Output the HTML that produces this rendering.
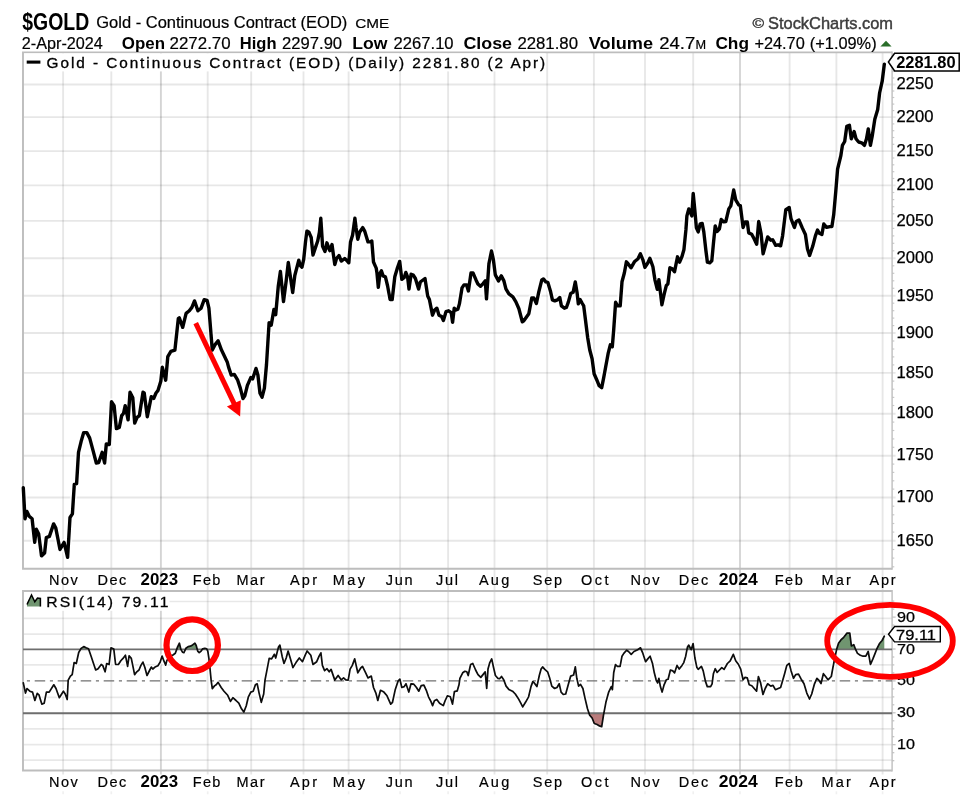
<!DOCTYPE html>
<html><head><meta charset="utf-8"><title>$GOLD</title><style>html,body{margin:0;padding:0;background:#fff;}body{width:975px;height:802px;overflow:hidden;font-family:"Liberation Sans",sans-serif;}svg{display:block;}</style></head>
<body>
<svg width="975" height="802" viewBox="0 0 975 802" font-family="'Liberation Sans', sans-serif">
<defs><filter id="b" x="-2%" y="-2%" width="104%" height="104%"><feGaussianBlur stdDeviation="0.52"/></filter>
<clipPath id="c70"><rect x="23.0" y="591.0" width="869.1" height="58.39999999999998"/></clipPath>
<clipPath id="c30"><rect x="23.0" y="713.2" width="869.1" height="57.299999999999955"/></clipPath>
<clipPath id="cm"><rect x="24.2" y="53.6" width="866.7" height="514.0"/></clipPath>
<clipPath id="cr"><rect x="24.2" y="592.2" width="866.7" height="177.1"/></clipPath>
</defs>
<rect width="975" height="802" fill="#fff"/>
<g filter="url(#b)">
<line x1="63.1" y1="52.4" x2="63.1" y2="774.5" stroke="rgba(0,0,0,0.095)" stroke-width="1.9"/>
<line x1="63.1" y1="791.3" x2="63.1" y2="794.3" stroke="rgba(0,0,0,0.06)" stroke-width="1.7"/>
<line x1="111.3" y1="52.4" x2="111.3" y2="774.5" stroke="rgba(0,0,0,0.095)" stroke-width="1.9"/>
<line x1="111.3" y1="791.3" x2="111.3" y2="794.3" stroke="rgba(0,0,0,0.06)" stroke-width="1.7"/>
<line x1="160.9" y1="52.4" x2="160.9" y2="774.5" stroke="rgba(0,0,0,0.17)" stroke-width="1.9"/>
<line x1="160.9" y1="791.3" x2="160.9" y2="794.3" stroke="rgba(0,0,0,0.06)" stroke-width="1.7"/>
<line x1="207.7" y1="52.4" x2="207.7" y2="774.5" stroke="rgba(0,0,0,0.095)" stroke-width="1.9"/>
<line x1="207.7" y1="791.3" x2="207.7" y2="794.3" stroke="rgba(0,0,0,0.06)" stroke-width="1.7"/>
<line x1="251.2" y1="52.4" x2="251.2" y2="774.5" stroke="rgba(0,0,0,0.095)" stroke-width="1.9"/>
<line x1="251.2" y1="791.3" x2="251.2" y2="794.3" stroke="rgba(0,0,0,0.06)" stroke-width="1.7"/>
<line x1="303.5" y1="52.4" x2="303.5" y2="774.5" stroke="rgba(0,0,0,0.095)" stroke-width="1.9"/>
<line x1="303.5" y1="791.3" x2="303.5" y2="794.3" stroke="rgba(0,0,0,0.06)" stroke-width="1.7"/>
<line x1="348.6" y1="52.4" x2="348.6" y2="774.5" stroke="rgba(0,0,0,0.095)" stroke-width="1.9"/>
<line x1="348.6" y1="791.3" x2="348.6" y2="794.3" stroke="rgba(0,0,0,0.06)" stroke-width="1.7"/>
<line x1="400.1" y1="52.4" x2="400.1" y2="774.5" stroke="rgba(0,0,0,0.095)" stroke-width="1.9"/>
<line x1="400.1" y1="791.3" x2="400.1" y2="794.3" stroke="rgba(0,0,0,0.06)" stroke-width="1.7"/>
<line x1="448.1" y1="52.4" x2="448.1" y2="774.5" stroke="rgba(0,0,0,0.095)" stroke-width="1.9"/>
<line x1="448.1" y1="791.3" x2="448.1" y2="794.3" stroke="rgba(0,0,0,0.06)" stroke-width="1.7"/>
<line x1="494.5" y1="52.4" x2="494.5" y2="774.5" stroke="rgba(0,0,0,0.095)" stroke-width="1.9"/>
<line x1="494.5" y1="791.3" x2="494.5" y2="794.3" stroke="rgba(0,0,0,0.06)" stroke-width="1.7"/>
<line x1="547.2" y1="52.4" x2="547.2" y2="774.5" stroke="rgba(0,0,0,0.095)" stroke-width="1.9"/>
<line x1="547.2" y1="791.3" x2="547.2" y2="794.3" stroke="rgba(0,0,0,0.06)" stroke-width="1.7"/>
<line x1="593.9" y1="52.4" x2="593.9" y2="774.5" stroke="rgba(0,0,0,0.095)" stroke-width="1.9"/>
<line x1="593.9" y1="791.3" x2="593.9" y2="794.3" stroke="rgba(0,0,0,0.06)" stroke-width="1.7"/>
<line x1="645.0" y1="52.4" x2="645.0" y2="774.5" stroke="rgba(0,0,0,0.095)" stroke-width="1.9"/>
<line x1="645.0" y1="791.3" x2="645.0" y2="794.3" stroke="rgba(0,0,0,0.06)" stroke-width="1.7"/>
<line x1="693.2" y1="52.4" x2="693.2" y2="774.5" stroke="rgba(0,0,0,0.095)" stroke-width="1.9"/>
<line x1="693.2" y1="791.3" x2="693.2" y2="794.3" stroke="rgba(0,0,0,0.06)" stroke-width="1.7"/>
<line x1="740.0" y1="52.4" x2="740.0" y2="774.5" stroke="rgba(0,0,0,0.17)" stroke-width="1.9"/>
<line x1="740.0" y1="791.3" x2="740.0" y2="794.3" stroke="rgba(0,0,0,0.06)" stroke-width="1.7"/>
<line x1="789.6" y1="52.4" x2="789.6" y2="774.5" stroke="rgba(0,0,0,0.095)" stroke-width="1.9"/>
<line x1="789.6" y1="791.3" x2="789.6" y2="794.3" stroke="rgba(0,0,0,0.06)" stroke-width="1.7"/>
<line x1="836.4" y1="52.4" x2="836.4" y2="774.5" stroke="rgba(0,0,0,0.095)" stroke-width="1.9"/>
<line x1="836.4" y1="791.3" x2="836.4" y2="794.3" stroke="rgba(0,0,0,0.06)" stroke-width="1.7"/>
<line x1="882.6" y1="52.4" x2="882.6" y2="774.5" stroke="rgba(0,0,0,0.095)" stroke-width="1.9"/>
<line x1="882.6" y1="791.3" x2="882.6" y2="794.3" stroke="rgba(0,0,0,0.06)" stroke-width="1.7"/>
<line x1="23.0" y1="84.5" x2="895.6" y2="84.5" stroke="rgba(0,0,0,0.095)" stroke-width="1.9"/>
<line x1="23.0" y1="117.1" x2="895.6" y2="117.1" stroke="rgba(0,0,0,0.095)" stroke-width="1.9"/>
<line x1="23.0" y1="151.1" x2="895.6" y2="151.1" stroke="rgba(0,0,0,0.095)" stroke-width="1.9"/>
<line x1="23.0" y1="185.4" x2="895.6" y2="185.4" stroke="rgba(0,0,0,0.095)" stroke-width="1.9"/>
<line x1="23.0" y1="220.9" x2="895.6" y2="220.9" stroke="rgba(0,0,0,0.095)" stroke-width="1.9"/>
<line x1="23.0" y1="258.3" x2="895.6" y2="258.3" stroke="rgba(0,0,0,0.095)" stroke-width="1.9"/>
<line x1="23.0" y1="295.8" x2="895.6" y2="295.8" stroke="rgba(0,0,0,0.095)" stroke-width="1.9"/>
<line x1="23.0" y1="333.0" x2="895.6" y2="333.0" stroke="rgba(0,0,0,0.095)" stroke-width="1.9"/>
<line x1="23.0" y1="372.9" x2="895.6" y2="372.9" stroke="rgba(0,0,0,0.095)" stroke-width="1.9"/>
<line x1="23.0" y1="413.7" x2="895.6" y2="413.7" stroke="rgba(0,0,0,0.095)" stroke-width="1.9"/>
<line x1="23.0" y1="455.7" x2="895.6" y2="455.7" stroke="rgba(0,0,0,0.095)" stroke-width="1.9"/>
<line x1="23.0" y1="497.5" x2="895.6" y2="497.5" stroke="rgba(0,0,0,0.095)" stroke-width="1.9"/>
<line x1="23.0" y1="540.8" x2="895.6" y2="540.8" stroke="rgba(0,0,0,0.095)" stroke-width="1.9"/>
<line x1="892.1" y1="58.4" x2="894.3000000000001" y2="58.4" stroke="#c8c8c8" stroke-width="1.2"/>
<line x1="892.1" y1="64.9" x2="894.3000000000001" y2="64.9" stroke="#c8c8c8" stroke-width="1.2"/>
<line x1="892.1" y1="71.5" x2="894.3000000000001" y2="71.5" stroke="#c8c8c8" stroke-width="1.2"/>
<line x1="892.1" y1="78.0" x2="894.3000000000001" y2="78.0" stroke="#c8c8c8" stroke-width="1.2"/>
<line x1="892.1" y1="91.0" x2="894.3000000000001" y2="91.0" stroke="#c8c8c8" stroke-width="1.2"/>
<line x1="892.1" y1="97.5" x2="894.3000000000001" y2="97.5" stroke="#c8c8c8" stroke-width="1.2"/>
<line x1="892.1" y1="104.1" x2="894.3000000000001" y2="104.1" stroke="#c8c8c8" stroke-width="1.2"/>
<line x1="892.1" y1="110.6" x2="894.3000000000001" y2="110.6" stroke="#c8c8c8" stroke-width="1.2"/>
<line x1="892.1" y1="123.9" x2="894.3000000000001" y2="123.9" stroke="#c8c8c8" stroke-width="1.2"/>
<line x1="892.1" y1="130.7" x2="894.3000000000001" y2="130.7" stroke="#c8c8c8" stroke-width="1.2"/>
<line x1="892.1" y1="137.5" x2="894.3000000000001" y2="137.5" stroke="#c8c8c8" stroke-width="1.2"/>
<line x1="892.1" y1="144.3" x2="894.3000000000001" y2="144.3" stroke="#c8c8c8" stroke-width="1.2"/>
<line x1="892.1" y1="158.0" x2="894.3000000000001" y2="158.0" stroke="#c8c8c8" stroke-width="1.2"/>
<line x1="892.1" y1="164.8" x2="894.3000000000001" y2="164.8" stroke="#c8c8c8" stroke-width="1.2"/>
<line x1="892.1" y1="171.7" x2="894.3000000000001" y2="171.7" stroke="#c8c8c8" stroke-width="1.2"/>
<line x1="892.1" y1="178.5" x2="894.3000000000001" y2="178.5" stroke="#c8c8c8" stroke-width="1.2"/>
<line x1="892.1" y1="192.5" x2="894.3000000000001" y2="192.5" stroke="#c8c8c8" stroke-width="1.2"/>
<line x1="892.1" y1="199.6" x2="894.3000000000001" y2="199.6" stroke="#c8c8c8" stroke-width="1.2"/>
<line x1="892.1" y1="206.7" x2="894.3000000000001" y2="206.7" stroke="#c8c8c8" stroke-width="1.2"/>
<line x1="892.1" y1="213.8" x2="894.3000000000001" y2="213.8" stroke="#c8c8c8" stroke-width="1.2"/>
<line x1="892.1" y1="228.4" x2="894.3000000000001" y2="228.4" stroke="#c8c8c8" stroke-width="1.2"/>
<line x1="892.1" y1="235.9" x2="894.3000000000001" y2="235.9" stroke="#c8c8c8" stroke-width="1.2"/>
<line x1="892.1" y1="243.3" x2="894.3000000000001" y2="243.3" stroke="#c8c8c8" stroke-width="1.2"/>
<line x1="892.1" y1="250.8" x2="894.3000000000001" y2="250.8" stroke="#c8c8c8" stroke-width="1.2"/>
<line x1="892.1" y1="265.8" x2="894.3000000000001" y2="265.8" stroke="#c8c8c8" stroke-width="1.2"/>
<line x1="892.1" y1="273.3" x2="894.3000000000001" y2="273.3" stroke="#c8c8c8" stroke-width="1.2"/>
<line x1="892.1" y1="280.8" x2="894.3000000000001" y2="280.8" stroke="#c8c8c8" stroke-width="1.2"/>
<line x1="892.1" y1="288.3" x2="894.3000000000001" y2="288.3" stroke="#c8c8c8" stroke-width="1.2"/>
<line x1="892.1" y1="303.2" x2="894.3000000000001" y2="303.2" stroke="#c8c8c8" stroke-width="1.2"/>
<line x1="892.1" y1="310.7" x2="894.3000000000001" y2="310.7" stroke="#c8c8c8" stroke-width="1.2"/>
<line x1="892.1" y1="318.1" x2="894.3000000000001" y2="318.1" stroke="#c8c8c8" stroke-width="1.2"/>
<line x1="892.1" y1="325.6" x2="894.3000000000001" y2="325.6" stroke="#c8c8c8" stroke-width="1.2"/>
<line x1="892.1" y1="341.0" x2="894.3000000000001" y2="341.0" stroke="#c8c8c8" stroke-width="1.2"/>
<line x1="892.1" y1="349.0" x2="894.3000000000001" y2="349.0" stroke="#c8c8c8" stroke-width="1.2"/>
<line x1="892.1" y1="356.9" x2="894.3000000000001" y2="356.9" stroke="#c8c8c8" stroke-width="1.2"/>
<line x1="892.1" y1="364.9" x2="894.3000000000001" y2="364.9" stroke="#c8c8c8" stroke-width="1.2"/>
<line x1="892.1" y1="381.1" x2="894.3000000000001" y2="381.1" stroke="#c8c8c8" stroke-width="1.2"/>
<line x1="892.1" y1="389.2" x2="894.3000000000001" y2="389.2" stroke="#c8c8c8" stroke-width="1.2"/>
<line x1="892.1" y1="397.4" x2="894.3000000000001" y2="397.4" stroke="#c8c8c8" stroke-width="1.2"/>
<line x1="892.1" y1="405.5" x2="894.3000000000001" y2="405.5" stroke="#c8c8c8" stroke-width="1.2"/>
<line x1="892.1" y1="422.1" x2="894.3000000000001" y2="422.1" stroke="#c8c8c8" stroke-width="1.2"/>
<line x1="892.1" y1="430.5" x2="894.3000000000001" y2="430.5" stroke="#c8c8c8" stroke-width="1.2"/>
<line x1="892.1" y1="438.9" x2="894.3000000000001" y2="438.9" stroke="#c8c8c8" stroke-width="1.2"/>
<line x1="892.1" y1="447.3" x2="894.3000000000001" y2="447.3" stroke="#c8c8c8" stroke-width="1.2"/>
<line x1="892.1" y1="464.1" x2="894.3000000000001" y2="464.1" stroke="#c8c8c8" stroke-width="1.2"/>
<line x1="892.1" y1="472.4" x2="894.3000000000001" y2="472.4" stroke="#c8c8c8" stroke-width="1.2"/>
<line x1="892.1" y1="480.8" x2="894.3000000000001" y2="480.8" stroke="#c8c8c8" stroke-width="1.2"/>
<line x1="892.1" y1="489.1" x2="894.3000000000001" y2="489.1" stroke="#c8c8c8" stroke-width="1.2"/>
<line x1="892.1" y1="506.2" x2="894.3000000000001" y2="506.2" stroke="#c8c8c8" stroke-width="1.2"/>
<line x1="892.1" y1="514.8" x2="894.3000000000001" y2="514.8" stroke="#c8c8c8" stroke-width="1.2"/>
<line x1="892.1" y1="523.5" x2="894.3000000000001" y2="523.5" stroke="#c8c8c8" stroke-width="1.2"/>
<line x1="892.1" y1="532.1" x2="894.3000000000001" y2="532.1" stroke="#c8c8c8" stroke-width="1.2"/>
<line x1="892.1" y1="549.5" x2="894.3000000000001" y2="549.5" stroke="#c8c8c8" stroke-width="1.2"/>
<line x1="892.1" y1="558.1" x2="894.3000000000001" y2="558.1" stroke="#c8c8c8" stroke-width="1.2"/>
<line x1="892.1" y1="566.8" x2="894.3000000000001" y2="566.8" stroke="#c8c8c8" stroke-width="1.2"/>
<line x1="23.0" y1="601.5" x2="892.1" y2="601.5" stroke="rgba(0,0,0,0.09)" stroke-width="1.7"/>
<line x1="23.0" y1="618.3" x2="892.1" y2="618.3" stroke="rgba(0,0,0,0.09)" stroke-width="1.7"/>
<line x1="23.0" y1="634.1" x2="892.1" y2="634.1" stroke="rgba(0,0,0,0.09)" stroke-width="1.7"/>
<line x1="23.0" y1="664.9" x2="892.1" y2="664.9" stroke="rgba(0,0,0,0.09)" stroke-width="1.7"/>
<line x1="23.0" y1="697.4" x2="892.1" y2="697.4" stroke="rgba(0,0,0,0.09)" stroke-width="1.7"/>
<line x1="23.0" y1="728.8" x2="892.1" y2="728.8" stroke="rgba(0,0,0,0.09)" stroke-width="1.7"/>
<line x1="23.0" y1="744.6" x2="892.1" y2="744.6" stroke="rgba(0,0,0,0.09)" stroke-width="1.7"/>
<line x1="23.0" y1="760.1" x2="892.1" y2="760.1" stroke="rgba(0,0,0,0.09)" stroke-width="1.7"/>
<line x1="892.1" y1="760.7" x2="894.3000000000001" y2="760.7" stroke="#c0c0c0" stroke-width="1.2"/>
<line x1="892.1" y1="752.7" x2="894.3000000000001" y2="752.7" stroke="#c0c0c0" stroke-width="1.2"/>
<line x1="892.1" y1="744.7" x2="895.6" y2="744.7" stroke="#c0c0c0" stroke-width="1.2"/>
<line x1="892.1" y1="736.7" x2="894.3000000000001" y2="736.7" stroke="#c0c0c0" stroke-width="1.2"/>
<line x1="892.1" y1="728.8" x2="894.3000000000001" y2="728.8" stroke="#c0c0c0" stroke-width="1.2"/>
<line x1="892.1" y1="720.8" x2="894.3000000000001" y2="720.8" stroke="#c0c0c0" stroke-width="1.2"/>
<line x1="892.1" y1="712.8" x2="895.6" y2="712.8" stroke="#c0c0c0" stroke-width="1.2"/>
<line x1="892.1" y1="704.8" x2="894.3000000000001" y2="704.8" stroke="#c0c0c0" stroke-width="1.2"/>
<line x1="892.1" y1="696.9" x2="894.3000000000001" y2="696.9" stroke="#c0c0c0" stroke-width="1.2"/>
<line x1="892.1" y1="688.9" x2="894.3000000000001" y2="688.9" stroke="#c0c0c0" stroke-width="1.2"/>
<line x1="892.1" y1="680.9" x2="895.6" y2="680.9" stroke="#c0c0c0" stroke-width="1.2"/>
<line x1="892.1" y1="672.9" x2="894.3000000000001" y2="672.9" stroke="#c0c0c0" stroke-width="1.2"/>
<line x1="892.1" y1="664.9" x2="894.3000000000001" y2="664.9" stroke="#c0c0c0" stroke-width="1.2"/>
<line x1="892.1" y1="657.0" x2="894.3000000000001" y2="657.0" stroke="#c0c0c0" stroke-width="1.2"/>
<line x1="892.1" y1="649.0" x2="895.6" y2="649.0" stroke="#c0c0c0" stroke-width="1.2"/>
<line x1="892.1" y1="641.0" x2="894.3000000000001" y2="641.0" stroke="#c0c0c0" stroke-width="1.2"/>
<line x1="892.1" y1="633.0" x2="894.3000000000001" y2="633.0" stroke="#c0c0c0" stroke-width="1.2"/>
<line x1="892.1" y1="625.1" x2="894.3000000000001" y2="625.1" stroke="#c0c0c0" stroke-width="1.2"/>
<line x1="892.1" y1="617.1" x2="895.6" y2="617.1" stroke="#c0c0c0" stroke-width="1.2"/>
<line x1="892.1" y1="609.1" x2="894.3000000000001" y2="609.1" stroke="#c0c0c0" stroke-width="1.2"/>
<line x1="892.1" y1="601.1" x2="894.3000000000001" y2="601.1" stroke="#c0c0c0" stroke-width="1.2"/>
<polyline points="892.1,52.4 23.0,52.4 23.0,568.8 892.1,568.8" fill="none" stroke="#bdbdbd" stroke-width="1.9"/>
<line x1="892.1" y1="51.5" x2="892.1" y2="569.6999999999999" stroke="#c0c0c0" stroke-width="1.45"/>
<polyline points="892.1,591.0 23.0,591.0 23.0,770.5 892.1,770.5" fill="none" stroke="#bdbdbd" stroke-width="1.9"/>
<line x1="892.1" y1="590.1" x2="892.1" y2="771.4" stroke="#c0c0c0" stroke-width="1.45"/>
<rect x="24.0" y="53.4" width="521.5" height="18" fill="#fff"/>
<rect x="24.0" y="592.0" width="145.6" height="18.8" fill="#fff"/>
<polyline points="23.3,682.9 25.5,693.1 27,688.5 29.8,691.2 32.5,692.1 34.9,700.5 37.2,693.4 39,694.9 41.8,704.1 44.2,703.2 46.4,692.1 49.2,692.1 53.8,684.8 56,688.5 59.3,697.7 63.4,691.2 65.2,694 67.2,699.5 68.2,680.1 70.4,676.1 72.2,674.6 74.1,662.6 76.3,663.5 78.7,652.5 81.1,648.4 83.7,646.6 86.1,647.8 88.5,648.8 91.1,656.2 93.5,663.5 95.7,670 98.1,668.7 101.2,664.5 102.7,665.4 105.1,671.8 106.7,663.5 109.1,664.5 111,647.8 113.8,649.1 115.6,664.5 118.4,664.5 120.8,660.8 123,658.4 125.4,655.2 127.6,666.3 129.1,655.8 131.3,658.4 133.1,667.2 134.6,674.6 136.8,671.8 139,670 140.9,665.4 142.9,662.1 144.8,667.2 147,675.5 149.8,670 151.3,667.1 152.8,669 155,667.1 157.9,665.7 160.1,662.3 162.1,656.1 164,661.2 165.7,665.1 166.8,660.6 168.5,658 171,655.6 173,655 175.3,653.3 177.5,647.1 179.4,643.2 180.9,649.4 182.5,652.2 183.9,652.7 185.9,648.3 188.2,646.6 190.4,646.2 192.6,644.9 194.9,643.2 196.2,645.5 197.7,651.1 199.2,652.7 201.1,651.1 202.7,648.8 204.8,648.3 206.7,648.8 207.8,651.1 208.9,658.4 210,668.5 211.2,680.8 212.3,688.7 214.5,685.9 216.2,684.7 218.1,682.4 221.2,687.5 224,691.2 227.7,695.3 230.5,701.4 232.9,697.7 236,700.5 238.8,703.2 241.5,708.8 243.8,712.1 246.2,706 248.4,696.8 250.8,692.1 253.2,691.2 255.4,684.8 257.2,683.8 259.1,693.1 261.3,702.3 263.7,694 265,680.1 266.8,670.9 269.2,658.4 271.6,658.9 274.4,654.3 275.7,658 278.5,646.9 279.9,645.1 282.1,656.2 284,663.5 286.2,658 288.1,651 290.5,658.9 292.9,667.6 296,662.6 299.3,658 302.5,661.7 305.2,655.2 307.1,651 310.8,655.2 313,664.5 316.7,661.7 319.1,656.2 320.9,652.8 322.4,665.4 324.6,670.6 327,668.7 329.2,671.8 331.1,669.4 332.9,674.6 334.8,680.1 338.1,675.5 341.2,679.8 343.6,677.9 345.8,679.8 348.2,680.1 350.1,669.1 352.3,665.4 354.7,658.9 357.8,672.8 360.6,668.2 362.5,666.3 365.2,671.8 368,677.9 371.3,676.1 373.5,687.5 375.9,693.1 377.8,700.5 380.5,690.3 383.9,692.1 387,695.8 390.7,704.1 392.5,702.3 395.3,689.4 398.1,681.1 399.9,679.2 401.8,687.5 404.2,686.6 406,683.8 408.8,692.1 411,683.8 413.8,684.2 416.5,687.5 418.8,691.2 421.2,685.7 423.9,685.1 426.3,690.3 428.5,696.8 430.9,701.4 432.6,705.6 434.4,700.8 436.8,699.5 439.6,703.2 443.3,705.6 445.2,700.5 447.4,695.8 450.3,696.8 452.5,704.1 454.4,691.6 457.2,690.9 459,684.8 459.9,678.3 462.7,672.8 464.9,671.3 466.8,671.8 468.2,675.5 470.6,664.5 472.8,663.5 475.6,670 478,674.6 480.8,677.4 483,674.6 485.2,671.8 486.7,688.5 488,669.1 489.8,662.6 491.7,658.9 493.5,667.2 495.4,675.5 497.8,678.3 499.6,678.7 501.5,676.5 503.7,679.8 506.1,686.1 508.8,689.4 512.5,691.2 515.3,694 518.1,698.2 520.8,703.2 522.7,706.9 525.5,702.3 528.6,696.8 531,686.6 532.8,681.6 534.3,682.9 536.9,686.6 539.3,675.5 541.1,669.1 542.6,666.9 544.8,669.4 547.6,671.8 549.5,677.4 551.8,686.1 554.6,688.5 557,687.5 559.2,683.8 561.1,692.1 563.3,694.5 565.7,694 568.5,683.8 570.7,676.1 573.6,675 575.3,666.9 576.8,678.3 578.6,686.1 580.5,684.4 582.9,688.5 585.1,698.6 587.5,708.8 589.7,715.2 592.1,718 594.3,723.5 597.1,724.5 599.5,725.9 601.7,726.7 603.5,715.2 605.9,702.3 608.7,692.1 611.3,686.6 612.4,689.7 613.7,672.8 615.5,664.5 617.4,666.3 620.1,666.3 622,656.2 623.8,653.4 626.6,650.2 628.5,651.5 631.2,654.3 634,651.5 637.7,649.7 640.5,647.8 642.9,653.4 645.6,661.7 647.8,658.9 650.1,656.2 652.5,663.5 654.3,672.8 656.1,679.8 657.6,682.9 658.9,678.3 660.4,686.6 662.1,692.1 664.1,684.8 666.3,679.8 668.1,679.2 670.4,670 672.8,670.9 674.6,672.8 677,665.4 679.2,669.1 682,665.4 683.8,662.6 685.7,656.2 687.5,646.9 688.8,645.1 691.2,649.7 693.1,643.6 694.9,658 696.8,667.2 698.2,669.4 701.4,666.3 703.2,670.9 705.4,681.1 707.3,686.6 710.6,686.6 712.1,683.8 713.4,673.7 715.2,668.7 717.1,672.4 719.5,670 721.8,667.6 724.1,669.4 727.4,663.5 730.2,660.8 733.3,654.3 735.7,660.8 738.5,664.5 740.7,669.1 743.1,679.8 744.9,677.4 747.3,677.9 749.2,684.8 751.8,685.7 754.2,688.5 756.6,691.2 758.4,676.5 760.6,682.9 763,694.5 765.2,688.5 767.6,683.8 770.8,686.1 773,685.3 775.4,689.7 778.2,688.5 780.6,687.5 782.8,680.1 784.6,673.7 786.8,665.4 789.2,663.5 791.1,670.9 793.5,678.3 795.7,674.6 798.5,674.2 801.2,679.2 804,683.8 806.8,693.1 809.5,699 811.7,694 814.5,683.8 816.9,678.3 818.8,680.1 821,683.5 823.4,673.7 825.6,676.5 828,679.8 831.3,676.5 833,667.2 834.8,658 836.7,649.1 838.5,643.2 840.9,639.9 843.7,637.3 847,633.1 849.8,633.1 851.4,646 853.8,644.7 855.7,649.7 857.5,653.4 860.3,655.2 863.1,656.2 865.8,656.2 868.2,651.5 870.5,664.5 872.9,658.9 875.1,653.4 877.3,647.8 879.7,643.2 882.1,640.5 884.3,636.2" fill="none" stroke="#fff" stroke-opacity="0.7" stroke-width="4.5" stroke-linejoin="round" clip-path="url(#cr)"/>
<polygon points="23.3,649.4 23.3,682.9 25.5,693.1 27,688.5 29.8,691.2 32.5,692.1 34.9,700.5 37.2,693.4 39,694.9 41.8,704.1 44.2,703.2 46.4,692.1 49.2,692.1 53.8,684.8 56,688.5 59.3,697.7 63.4,691.2 65.2,694 67.2,699.5 68.2,680.1 70.4,676.1 72.2,674.6 74.1,662.6 76.3,663.5 78.7,652.5 81.1,648.4 83.7,646.6 86.1,647.8 88.5,648.8 91.1,656.2 93.5,663.5 95.7,670 98.1,668.7 101.2,664.5 102.7,665.4 105.1,671.8 106.7,663.5 109.1,664.5 111,647.8 113.8,649.1 115.6,664.5 118.4,664.5 120.8,660.8 123,658.4 125.4,655.2 127.6,666.3 129.1,655.8 131.3,658.4 133.1,667.2 134.6,674.6 136.8,671.8 139,670 140.9,665.4 142.9,662.1 144.8,667.2 147,675.5 149.8,670 151.3,667.1 152.8,669 155,667.1 157.9,665.7 160.1,662.3 162.1,656.1 164,661.2 165.7,665.1 166.8,660.6 168.5,658 171,655.6 173,655 175.3,653.3 177.5,647.1 179.4,643.2 180.9,649.4 182.5,652.2 183.9,652.7 185.9,648.3 188.2,646.6 190.4,646.2 192.6,644.9 194.9,643.2 196.2,645.5 197.7,651.1 199.2,652.7 201.1,651.1 202.7,648.8 204.8,648.3 206.7,648.8 207.8,651.1 208.9,658.4 210,668.5 211.2,680.8 212.3,688.7 214.5,685.9 216.2,684.7 218.1,682.4 221.2,687.5 224,691.2 227.7,695.3 230.5,701.4 232.9,697.7 236,700.5 238.8,703.2 241.5,708.8 243.8,712.1 246.2,706 248.4,696.8 250.8,692.1 253.2,691.2 255.4,684.8 257.2,683.8 259.1,693.1 261.3,702.3 263.7,694 265,680.1 266.8,670.9 269.2,658.4 271.6,658.9 274.4,654.3 275.7,658 278.5,646.9 279.9,645.1 282.1,656.2 284,663.5 286.2,658 288.1,651 290.5,658.9 292.9,667.6 296,662.6 299.3,658 302.5,661.7 305.2,655.2 307.1,651 310.8,655.2 313,664.5 316.7,661.7 319.1,656.2 320.9,652.8 322.4,665.4 324.6,670.6 327,668.7 329.2,671.8 331.1,669.4 332.9,674.6 334.8,680.1 338.1,675.5 341.2,679.8 343.6,677.9 345.8,679.8 348.2,680.1 350.1,669.1 352.3,665.4 354.7,658.9 357.8,672.8 360.6,668.2 362.5,666.3 365.2,671.8 368,677.9 371.3,676.1 373.5,687.5 375.9,693.1 377.8,700.5 380.5,690.3 383.9,692.1 387,695.8 390.7,704.1 392.5,702.3 395.3,689.4 398.1,681.1 399.9,679.2 401.8,687.5 404.2,686.6 406,683.8 408.8,692.1 411,683.8 413.8,684.2 416.5,687.5 418.8,691.2 421.2,685.7 423.9,685.1 426.3,690.3 428.5,696.8 430.9,701.4 432.6,705.6 434.4,700.8 436.8,699.5 439.6,703.2 443.3,705.6 445.2,700.5 447.4,695.8 450.3,696.8 452.5,704.1 454.4,691.6 457.2,690.9 459,684.8 459.9,678.3 462.7,672.8 464.9,671.3 466.8,671.8 468.2,675.5 470.6,664.5 472.8,663.5 475.6,670 478,674.6 480.8,677.4 483,674.6 485.2,671.8 486.7,688.5 488,669.1 489.8,662.6 491.7,658.9 493.5,667.2 495.4,675.5 497.8,678.3 499.6,678.7 501.5,676.5 503.7,679.8 506.1,686.1 508.8,689.4 512.5,691.2 515.3,694 518.1,698.2 520.8,703.2 522.7,706.9 525.5,702.3 528.6,696.8 531,686.6 532.8,681.6 534.3,682.9 536.9,686.6 539.3,675.5 541.1,669.1 542.6,666.9 544.8,669.4 547.6,671.8 549.5,677.4 551.8,686.1 554.6,688.5 557,687.5 559.2,683.8 561.1,692.1 563.3,694.5 565.7,694 568.5,683.8 570.7,676.1 573.6,675 575.3,666.9 576.8,678.3 578.6,686.1 580.5,684.4 582.9,688.5 585.1,698.6 587.5,708.8 589.7,715.2 592.1,718 594.3,723.5 597.1,724.5 599.5,725.9 601.7,726.7 603.5,715.2 605.9,702.3 608.7,692.1 611.3,686.6 612.4,689.7 613.7,672.8 615.5,664.5 617.4,666.3 620.1,666.3 622,656.2 623.8,653.4 626.6,650.2 628.5,651.5 631.2,654.3 634,651.5 637.7,649.7 640.5,647.8 642.9,653.4 645.6,661.7 647.8,658.9 650.1,656.2 652.5,663.5 654.3,672.8 656.1,679.8 657.6,682.9 658.9,678.3 660.4,686.6 662.1,692.1 664.1,684.8 666.3,679.8 668.1,679.2 670.4,670 672.8,670.9 674.6,672.8 677,665.4 679.2,669.1 682,665.4 683.8,662.6 685.7,656.2 687.5,646.9 688.8,645.1 691.2,649.7 693.1,643.6 694.9,658 696.8,667.2 698.2,669.4 701.4,666.3 703.2,670.9 705.4,681.1 707.3,686.6 710.6,686.6 712.1,683.8 713.4,673.7 715.2,668.7 717.1,672.4 719.5,670 721.8,667.6 724.1,669.4 727.4,663.5 730.2,660.8 733.3,654.3 735.7,660.8 738.5,664.5 740.7,669.1 743.1,679.8 744.9,677.4 747.3,677.9 749.2,684.8 751.8,685.7 754.2,688.5 756.6,691.2 758.4,676.5 760.6,682.9 763,694.5 765.2,688.5 767.6,683.8 770.8,686.1 773,685.3 775.4,689.7 778.2,688.5 780.6,687.5 782.8,680.1 784.6,673.7 786.8,665.4 789.2,663.5 791.1,670.9 793.5,678.3 795.7,674.6 798.5,674.2 801.2,679.2 804,683.8 806.8,693.1 809.5,699 811.7,694 814.5,683.8 816.9,678.3 818.8,680.1 821,683.5 823.4,673.7 825.6,676.5 828,679.8 831.3,676.5 833,667.2 834.8,658 836.7,649.1 838.5,643.2 840.9,639.9 843.7,637.3 847,633.1 849.8,633.1 851.4,646 853.8,644.7 855.7,649.7 857.5,653.4 860.3,655.2 863.1,656.2 865.8,656.2 868.2,651.5 870.5,664.5 872.9,658.9 875.1,653.4 877.3,647.8 879.7,643.2 882.1,640.5 884.3,636.2 884.3,649.4" fill="#6f956f" clip-path="url(#c70)"/>
<polygon points="23.3,713.2 23.3,682.9 25.5,693.1 27,688.5 29.8,691.2 32.5,692.1 34.9,700.5 37.2,693.4 39,694.9 41.8,704.1 44.2,703.2 46.4,692.1 49.2,692.1 53.8,684.8 56,688.5 59.3,697.7 63.4,691.2 65.2,694 67.2,699.5 68.2,680.1 70.4,676.1 72.2,674.6 74.1,662.6 76.3,663.5 78.7,652.5 81.1,648.4 83.7,646.6 86.1,647.8 88.5,648.8 91.1,656.2 93.5,663.5 95.7,670 98.1,668.7 101.2,664.5 102.7,665.4 105.1,671.8 106.7,663.5 109.1,664.5 111,647.8 113.8,649.1 115.6,664.5 118.4,664.5 120.8,660.8 123,658.4 125.4,655.2 127.6,666.3 129.1,655.8 131.3,658.4 133.1,667.2 134.6,674.6 136.8,671.8 139,670 140.9,665.4 142.9,662.1 144.8,667.2 147,675.5 149.8,670 151.3,667.1 152.8,669 155,667.1 157.9,665.7 160.1,662.3 162.1,656.1 164,661.2 165.7,665.1 166.8,660.6 168.5,658 171,655.6 173,655 175.3,653.3 177.5,647.1 179.4,643.2 180.9,649.4 182.5,652.2 183.9,652.7 185.9,648.3 188.2,646.6 190.4,646.2 192.6,644.9 194.9,643.2 196.2,645.5 197.7,651.1 199.2,652.7 201.1,651.1 202.7,648.8 204.8,648.3 206.7,648.8 207.8,651.1 208.9,658.4 210,668.5 211.2,680.8 212.3,688.7 214.5,685.9 216.2,684.7 218.1,682.4 221.2,687.5 224,691.2 227.7,695.3 230.5,701.4 232.9,697.7 236,700.5 238.8,703.2 241.5,708.8 243.8,712.1 246.2,706 248.4,696.8 250.8,692.1 253.2,691.2 255.4,684.8 257.2,683.8 259.1,693.1 261.3,702.3 263.7,694 265,680.1 266.8,670.9 269.2,658.4 271.6,658.9 274.4,654.3 275.7,658 278.5,646.9 279.9,645.1 282.1,656.2 284,663.5 286.2,658 288.1,651 290.5,658.9 292.9,667.6 296,662.6 299.3,658 302.5,661.7 305.2,655.2 307.1,651 310.8,655.2 313,664.5 316.7,661.7 319.1,656.2 320.9,652.8 322.4,665.4 324.6,670.6 327,668.7 329.2,671.8 331.1,669.4 332.9,674.6 334.8,680.1 338.1,675.5 341.2,679.8 343.6,677.9 345.8,679.8 348.2,680.1 350.1,669.1 352.3,665.4 354.7,658.9 357.8,672.8 360.6,668.2 362.5,666.3 365.2,671.8 368,677.9 371.3,676.1 373.5,687.5 375.9,693.1 377.8,700.5 380.5,690.3 383.9,692.1 387,695.8 390.7,704.1 392.5,702.3 395.3,689.4 398.1,681.1 399.9,679.2 401.8,687.5 404.2,686.6 406,683.8 408.8,692.1 411,683.8 413.8,684.2 416.5,687.5 418.8,691.2 421.2,685.7 423.9,685.1 426.3,690.3 428.5,696.8 430.9,701.4 432.6,705.6 434.4,700.8 436.8,699.5 439.6,703.2 443.3,705.6 445.2,700.5 447.4,695.8 450.3,696.8 452.5,704.1 454.4,691.6 457.2,690.9 459,684.8 459.9,678.3 462.7,672.8 464.9,671.3 466.8,671.8 468.2,675.5 470.6,664.5 472.8,663.5 475.6,670 478,674.6 480.8,677.4 483,674.6 485.2,671.8 486.7,688.5 488,669.1 489.8,662.6 491.7,658.9 493.5,667.2 495.4,675.5 497.8,678.3 499.6,678.7 501.5,676.5 503.7,679.8 506.1,686.1 508.8,689.4 512.5,691.2 515.3,694 518.1,698.2 520.8,703.2 522.7,706.9 525.5,702.3 528.6,696.8 531,686.6 532.8,681.6 534.3,682.9 536.9,686.6 539.3,675.5 541.1,669.1 542.6,666.9 544.8,669.4 547.6,671.8 549.5,677.4 551.8,686.1 554.6,688.5 557,687.5 559.2,683.8 561.1,692.1 563.3,694.5 565.7,694 568.5,683.8 570.7,676.1 573.6,675 575.3,666.9 576.8,678.3 578.6,686.1 580.5,684.4 582.9,688.5 585.1,698.6 587.5,708.8 589.7,715.2 592.1,718 594.3,723.5 597.1,724.5 599.5,725.9 601.7,726.7 603.5,715.2 605.9,702.3 608.7,692.1 611.3,686.6 612.4,689.7 613.7,672.8 615.5,664.5 617.4,666.3 620.1,666.3 622,656.2 623.8,653.4 626.6,650.2 628.5,651.5 631.2,654.3 634,651.5 637.7,649.7 640.5,647.8 642.9,653.4 645.6,661.7 647.8,658.9 650.1,656.2 652.5,663.5 654.3,672.8 656.1,679.8 657.6,682.9 658.9,678.3 660.4,686.6 662.1,692.1 664.1,684.8 666.3,679.8 668.1,679.2 670.4,670 672.8,670.9 674.6,672.8 677,665.4 679.2,669.1 682,665.4 683.8,662.6 685.7,656.2 687.5,646.9 688.8,645.1 691.2,649.7 693.1,643.6 694.9,658 696.8,667.2 698.2,669.4 701.4,666.3 703.2,670.9 705.4,681.1 707.3,686.6 710.6,686.6 712.1,683.8 713.4,673.7 715.2,668.7 717.1,672.4 719.5,670 721.8,667.6 724.1,669.4 727.4,663.5 730.2,660.8 733.3,654.3 735.7,660.8 738.5,664.5 740.7,669.1 743.1,679.8 744.9,677.4 747.3,677.9 749.2,684.8 751.8,685.7 754.2,688.5 756.6,691.2 758.4,676.5 760.6,682.9 763,694.5 765.2,688.5 767.6,683.8 770.8,686.1 773,685.3 775.4,689.7 778.2,688.5 780.6,687.5 782.8,680.1 784.6,673.7 786.8,665.4 789.2,663.5 791.1,670.9 793.5,678.3 795.7,674.6 798.5,674.2 801.2,679.2 804,683.8 806.8,693.1 809.5,699 811.7,694 814.5,683.8 816.9,678.3 818.8,680.1 821,683.5 823.4,673.7 825.6,676.5 828,679.8 831.3,676.5 833,667.2 834.8,658 836.7,649.1 838.5,643.2 840.9,639.9 843.7,637.3 847,633.1 849.8,633.1 851.4,646 853.8,644.7 855.7,649.7 857.5,653.4 860.3,655.2 863.1,656.2 865.8,656.2 868.2,651.5 870.5,664.5 872.9,658.9 875.1,653.4 877.3,647.8 879.7,643.2 882.1,640.5 884.3,636.2 884.3,713.2" fill="#b97c7c" clip-path="url(#c30)"/>
<line x1="23.0" y1="649.4" x2="892.1" y2="649.4" stroke="#6e6e6e" stroke-width="1.9"/>
<line x1="23.0" y1="713.2" x2="892.1" y2="713.2" stroke="#6e6e6e" stroke-width="1.9"/>
<line x1="23.0" y1="680.9" x2="892.1" y2="680.9" stroke="#707070" stroke-width="1.35" stroke-dasharray="10.5 4.7 3.1 4.7" stroke-dashoffset="11.3"/>
<polyline points="23.3,682.9 25.5,693.1 27,688.5 29.8,691.2 32.5,692.1 34.9,700.5 37.2,693.4 39,694.9 41.8,704.1 44.2,703.2 46.4,692.1 49.2,692.1 53.8,684.8 56,688.5 59.3,697.7 63.4,691.2 65.2,694 67.2,699.5 68.2,680.1 70.4,676.1 72.2,674.6 74.1,662.6 76.3,663.5 78.7,652.5 81.1,648.4 83.7,646.6 86.1,647.8 88.5,648.8 91.1,656.2 93.5,663.5 95.7,670 98.1,668.7 101.2,664.5 102.7,665.4 105.1,671.8 106.7,663.5 109.1,664.5 111,647.8 113.8,649.1 115.6,664.5 118.4,664.5 120.8,660.8 123,658.4 125.4,655.2 127.6,666.3 129.1,655.8 131.3,658.4 133.1,667.2 134.6,674.6 136.8,671.8 139,670 140.9,665.4 142.9,662.1 144.8,667.2 147,675.5 149.8,670 151.3,667.1 152.8,669 155,667.1 157.9,665.7 160.1,662.3 162.1,656.1 164,661.2 165.7,665.1 166.8,660.6 168.5,658 171,655.6 173,655 175.3,653.3 177.5,647.1 179.4,643.2 180.9,649.4 182.5,652.2 183.9,652.7 185.9,648.3 188.2,646.6 190.4,646.2 192.6,644.9 194.9,643.2 196.2,645.5 197.7,651.1 199.2,652.7 201.1,651.1 202.7,648.8 204.8,648.3 206.7,648.8 207.8,651.1 208.9,658.4 210,668.5 211.2,680.8 212.3,688.7 214.5,685.9 216.2,684.7 218.1,682.4 221.2,687.5 224,691.2 227.7,695.3 230.5,701.4 232.9,697.7 236,700.5 238.8,703.2 241.5,708.8 243.8,712.1 246.2,706 248.4,696.8 250.8,692.1 253.2,691.2 255.4,684.8 257.2,683.8 259.1,693.1 261.3,702.3 263.7,694 265,680.1 266.8,670.9 269.2,658.4 271.6,658.9 274.4,654.3 275.7,658 278.5,646.9 279.9,645.1 282.1,656.2 284,663.5 286.2,658 288.1,651 290.5,658.9 292.9,667.6 296,662.6 299.3,658 302.5,661.7 305.2,655.2 307.1,651 310.8,655.2 313,664.5 316.7,661.7 319.1,656.2 320.9,652.8 322.4,665.4 324.6,670.6 327,668.7 329.2,671.8 331.1,669.4 332.9,674.6 334.8,680.1 338.1,675.5 341.2,679.8 343.6,677.9 345.8,679.8 348.2,680.1 350.1,669.1 352.3,665.4 354.7,658.9 357.8,672.8 360.6,668.2 362.5,666.3 365.2,671.8 368,677.9 371.3,676.1 373.5,687.5 375.9,693.1 377.8,700.5 380.5,690.3 383.9,692.1 387,695.8 390.7,704.1 392.5,702.3 395.3,689.4 398.1,681.1 399.9,679.2 401.8,687.5 404.2,686.6 406,683.8 408.8,692.1 411,683.8 413.8,684.2 416.5,687.5 418.8,691.2 421.2,685.7 423.9,685.1 426.3,690.3 428.5,696.8 430.9,701.4 432.6,705.6 434.4,700.8 436.8,699.5 439.6,703.2 443.3,705.6 445.2,700.5 447.4,695.8 450.3,696.8 452.5,704.1 454.4,691.6 457.2,690.9 459,684.8 459.9,678.3 462.7,672.8 464.9,671.3 466.8,671.8 468.2,675.5 470.6,664.5 472.8,663.5 475.6,670 478,674.6 480.8,677.4 483,674.6 485.2,671.8 486.7,688.5 488,669.1 489.8,662.6 491.7,658.9 493.5,667.2 495.4,675.5 497.8,678.3 499.6,678.7 501.5,676.5 503.7,679.8 506.1,686.1 508.8,689.4 512.5,691.2 515.3,694 518.1,698.2 520.8,703.2 522.7,706.9 525.5,702.3 528.6,696.8 531,686.6 532.8,681.6 534.3,682.9 536.9,686.6 539.3,675.5 541.1,669.1 542.6,666.9 544.8,669.4 547.6,671.8 549.5,677.4 551.8,686.1 554.6,688.5 557,687.5 559.2,683.8 561.1,692.1 563.3,694.5 565.7,694 568.5,683.8 570.7,676.1 573.6,675 575.3,666.9 576.8,678.3 578.6,686.1 580.5,684.4 582.9,688.5 585.1,698.6 587.5,708.8 589.7,715.2 592.1,718 594.3,723.5 597.1,724.5 599.5,725.9 601.7,726.7 603.5,715.2 605.9,702.3 608.7,692.1 611.3,686.6 612.4,689.7 613.7,672.8 615.5,664.5 617.4,666.3 620.1,666.3 622,656.2 623.8,653.4 626.6,650.2 628.5,651.5 631.2,654.3 634,651.5 637.7,649.7 640.5,647.8 642.9,653.4 645.6,661.7 647.8,658.9 650.1,656.2 652.5,663.5 654.3,672.8 656.1,679.8 657.6,682.9 658.9,678.3 660.4,686.6 662.1,692.1 664.1,684.8 666.3,679.8 668.1,679.2 670.4,670 672.8,670.9 674.6,672.8 677,665.4 679.2,669.1 682,665.4 683.8,662.6 685.7,656.2 687.5,646.9 688.8,645.1 691.2,649.7 693.1,643.6 694.9,658 696.8,667.2 698.2,669.4 701.4,666.3 703.2,670.9 705.4,681.1 707.3,686.6 710.6,686.6 712.1,683.8 713.4,673.7 715.2,668.7 717.1,672.4 719.5,670 721.8,667.6 724.1,669.4 727.4,663.5 730.2,660.8 733.3,654.3 735.7,660.8 738.5,664.5 740.7,669.1 743.1,679.8 744.9,677.4 747.3,677.9 749.2,684.8 751.8,685.7 754.2,688.5 756.6,691.2 758.4,676.5 760.6,682.9 763,694.5 765.2,688.5 767.6,683.8 770.8,686.1 773,685.3 775.4,689.7 778.2,688.5 780.6,687.5 782.8,680.1 784.6,673.7 786.8,665.4 789.2,663.5 791.1,670.9 793.5,678.3 795.7,674.6 798.5,674.2 801.2,679.2 804,683.8 806.8,693.1 809.5,699 811.7,694 814.5,683.8 816.9,678.3 818.8,680.1 821,683.5 823.4,673.7 825.6,676.5 828,679.8 831.3,676.5 833,667.2 834.8,658 836.7,649.1 838.5,643.2 840.9,639.9 843.7,637.3 847,633.1 849.8,633.1 851.4,646 853.8,644.7 855.7,649.7 857.5,653.4 860.3,655.2 863.1,656.2 865.8,656.2 868.2,651.5 870.5,664.5 872.9,658.9 875.1,653.4 877.3,647.8 879.7,643.2 882.1,640.5 884.3,636.2" fill="none" stroke="#0a0a0a" stroke-width="1.7" stroke-linejoin="round" stroke-linecap="round"/>
<polyline points="23.3,487.8 25,518.7 26.9,511.5 29.2,516.3 32.1,518.7 34.7,542.4 36.3,529.3 38.7,534.1 41.5,555.9 44.6,553 46.3,537.6 49.4,536.4 53.6,523.9 55.8,528.1 60,549.5 64.1,542.4 67.6,557.3 70,517.5 72.4,513.9 74.3,484.3 76.6,483.6 78.5,452.3 81.4,440.4 83.7,432.6 86.8,432.6 89.7,438.1 93.2,451.1 96.3,463 98.7,462.5 102.2,452.3 104.6,463 106.3,444 109.3,444.5 111.5,401.8 114.1,405.6 116.4,428.6 119.3,427.4 121.7,415.6 123.6,413.2 125.2,405.6 128.1,419.8 130,392.3 132.8,397.8 134.7,423.1 137.1,417.4 139.4,415.6 143,392.3 144.2,393 147.3,416.7 151.3,396.6 153.7,398.5 156,393 157.9,390.7 160.8,381.2 162.3,367.1 165.7,380.2 167.8,356.6 170.9,351.4 174.9,350.1 178.3,318.7 179.3,317.9 182.7,327.3 186.1,313.4 189.3,310.8 191.9,307.4 194.5,300.9 197.9,310.8 201.1,308.2 204.2,299.6 207.1,300.3 208.9,308.2 212.3,350.1 214.9,344.9 218.1,340.9 221.5,350.1 224.6,356.6 227.2,361.9 228.6,367.1 231.2,375 234.3,374.4 237.7,380.2 240.3,388.1 243,398.5 244.8,395.9 247.4,385.4 250.8,377.6 252.6,378.9 256,368.4 257.9,375 260,393.3 262.1,397.2 264.4,388.1 266.5,364.5 269.1,322.6 271.2,325.2 273.9,309.5 275.7,314.7 278.3,285.9 280.4,271.5 283.5,301.6 286.2,280.7 288.3,262.4 292.7,292.5 294.8,275.5 298.8,260.2 300.2,265.5 302,267.2 303.7,259.3 305.5,241.9 306.9,231.1 309,232.3 311.2,237.5 313,255 315.6,247.1 317.7,241 319.4,232.3 320.8,218.3 322.6,246.3 325,251.5 326.9,242.8 329,248.9 329.9,250.6 332,244.5 333.1,252.4 334.8,264.6 336.5,258.5 339,255.5 341.3,261.1 344.7,258.5 346.5,260.2 348.8,262.8 350.5,241.9 352.6,234.9 354.9,218.3 356.1,227.9 357.8,239.3 359.6,232.3 362.7,227.6 364.8,231.4 368,241.9 370.1,241.9 371.8,241 373.5,262 376.2,268.1 377,273.3 378.3,287.3 380,273.3 381.4,270.7 383.1,275.9 385.4,276.8 387.5,285.5 390.1,299.5 392.2,299.5 394.8,276.8 397.1,268.9 399.7,261.4 401.8,279.4 404.1,277.7 405.8,272.4 407.6,276.8 409,289 411.1,274.2 413.3,275.1 415.4,278.5 418.6,289 420.3,282 425,278.5 427.7,296 429.4,299.5 432.5,315.2 434.6,310 436.9,308.2 439,315.2 441.6,316.6 443.4,320.4 446,311.7 448.6,310.8 451.2,312.6 452.6,322.2 454.2,308.2 455.9,310 457.9,309.1 459.4,303.9 462,287.9 464,284.9 466.6,284.9 468.4,290.9 471,272.9 473,272.9 476,279.9 477.9,283.9 480.5,286.3 482.9,283.9 485.3,280.9 486.5,298.9 488.9,263.9 491.5,251 493.3,259 495.3,274.9 498.5,280.9 501.3,275.9 503.9,280.9 505.9,288.9 508.9,293.9 512.9,296.9 515.9,301.9 518.9,308.8 522.3,321.8 523.8,320.8 528.8,313.8 531.8,297.9 533.8,297.9 536.4,303.5 538.8,291.9 541.8,279.9 543.4,278.9 545.8,281.9 547.8,282.3 550.4,290.9 552.4,299.9 554.8,300.9 557.4,299.9 559.8,297.5 561.4,305.9 564.4,308.2 566.4,307.5 568.4,301.9 570.7,293.5 573.1,292.3 575.3,281.9 577.1,292.9 578.3,303.9 580.1,299.5 582.3,303.5 583.7,305.9 585.7,321.8 587.7,337.8 589.7,349.8 592.1,358.7 594.1,373.7 596.7,379.7 599.1,385.7 601.7,387.7 603.7,377.7 605.7,366.7 608.1,353.7 610.3,344.8 612.3,346.8 613.7,329.8 615.6,302.3 617.6,305.9 620.2,305.9 622,281.8 624.4,272.8 626.4,261.8 628.4,264.2 631,267.8 634.4,261.8 638,258.8 640.4,253.8 642.9,259.8 644.9,267.4 647.9,262.8 649.9,258.2 652.9,266.8 654.9,279.8 657.3,289.3 658.9,279.8 661.9,304.7 664.3,293.7 666.3,285.7 667.9,283.8 669.9,267.8 672.3,268.8 674.5,271.8 677.5,256.8 679.5,262.2 681.9,256.8 683.9,249.8 685.9,229.9 686.9,215.9 688.8,208.9 691.8,215.9 693.2,193.5 694.8,209.9 696.4,227.9 698.2,231.9 700.2,223.9 702.2,223.5 703.8,231.9 705.8,249.8 707.4,262.2 709.8,262.8 711.8,260.8 713.4,243.8 715.2,225.9 717.2,231.5 719.4,228.9 721.2,219.5 723.8,221.9 725.8,221.5 728.8,208.9 730.8,205.9 733.7,190 735.7,199.9 738.7,204.9 740.3,205.5 743.1,227.5 745.1,221.9 747.3,221.9 748.7,232.9 751.7,234.3 754.1,238.8 756.7,244.2 758.7,221.5 761.1,233.9 763.1,253.8 765.3,245.8 767.7,236.9 770.7,240.2 772.7,239.8 775.7,245.4 778,244.8 780.6,245.8 782.6,235.8 785.8,209.6 789.2,207.5 791,218.7 794.4,227.4 796.2,221.4 798.9,220 802.3,227.9 805.4,234.5 807.5,248.9 809.6,255.4 812.7,246.3 815.4,235.8 817.5,230 819.3,233.2 821.9,234.5 823.8,224 826.6,227.4 829.8,226.6 831.9,226.6 833.7,214.8 835.8,191.2 837.6,169 840.8,155.9 842.4,145.4 844.7,141.5 846.8,126.3 849.4,125.2 851.3,138.8 854.1,131.5 856,138.8 858.6,142 861.7,142.8 864.4,145.4 866.5,138.8 868.3,128.9 870.4,145.4 872.2,136.2 874.8,119.2 877.7,109.5 879.6,93 882.2,81.2 884.3,64.2" fill="none" stroke="#fff" stroke-opacity="0.75" stroke-width="7" stroke-linejoin="round" stroke-linecap="butt" clip-path="url(#cm)"/>
<polyline points="23.3,487.8 25,518.7 26.9,511.5 29.2,516.3 32.1,518.7 34.7,542.4 36.3,529.3 38.7,534.1 41.5,555.9 44.6,553 46.3,537.6 49.4,536.4 53.6,523.9 55.8,528.1 60,549.5 64.1,542.4 67.6,557.3 70,517.5 72.4,513.9 74.3,484.3 76.6,483.6 78.5,452.3 81.4,440.4 83.7,432.6 86.8,432.6 89.7,438.1 93.2,451.1 96.3,463 98.7,462.5 102.2,452.3 104.6,463 106.3,444 109.3,444.5 111.5,401.8 114.1,405.6 116.4,428.6 119.3,427.4 121.7,415.6 123.6,413.2 125.2,405.6 128.1,419.8 130,392.3 132.8,397.8 134.7,423.1 137.1,417.4 139.4,415.6 143,392.3 144.2,393 147.3,416.7 151.3,396.6 153.7,398.5 156,393 157.9,390.7 160.8,381.2 162.3,367.1 165.7,380.2 167.8,356.6 170.9,351.4 174.9,350.1 178.3,318.7 179.3,317.9 182.7,327.3 186.1,313.4 189.3,310.8 191.9,307.4 194.5,300.9 197.9,310.8 201.1,308.2 204.2,299.6 207.1,300.3 208.9,308.2 212.3,350.1 214.9,344.9 218.1,340.9 221.5,350.1 224.6,356.6 227.2,361.9 228.6,367.1 231.2,375 234.3,374.4 237.7,380.2 240.3,388.1 243,398.5 244.8,395.9 247.4,385.4 250.8,377.6 252.6,378.9 256,368.4 257.9,375 260,393.3 262.1,397.2 264.4,388.1 266.5,364.5 269.1,322.6 271.2,325.2 273.9,309.5 275.7,314.7 278.3,285.9 280.4,271.5 283.5,301.6 286.2,280.7 288.3,262.4 292.7,292.5 294.8,275.5 298.8,260.2 300.2,265.5 302,267.2 303.7,259.3 305.5,241.9 306.9,231.1 309,232.3 311.2,237.5 313,255 315.6,247.1 317.7,241 319.4,232.3 320.8,218.3 322.6,246.3 325,251.5 326.9,242.8 329,248.9 329.9,250.6 332,244.5 333.1,252.4 334.8,264.6 336.5,258.5 339,255.5 341.3,261.1 344.7,258.5 346.5,260.2 348.8,262.8 350.5,241.9 352.6,234.9 354.9,218.3 356.1,227.9 357.8,239.3 359.6,232.3 362.7,227.6 364.8,231.4 368,241.9 370.1,241.9 371.8,241 373.5,262 376.2,268.1 377,273.3 378.3,287.3 380,273.3 381.4,270.7 383.1,275.9 385.4,276.8 387.5,285.5 390.1,299.5 392.2,299.5 394.8,276.8 397.1,268.9 399.7,261.4 401.8,279.4 404.1,277.7 405.8,272.4 407.6,276.8 409,289 411.1,274.2 413.3,275.1 415.4,278.5 418.6,289 420.3,282 425,278.5 427.7,296 429.4,299.5 432.5,315.2 434.6,310 436.9,308.2 439,315.2 441.6,316.6 443.4,320.4 446,311.7 448.6,310.8 451.2,312.6 452.6,322.2 454.2,308.2 455.9,310 457.9,309.1 459.4,303.9 462,287.9 464,284.9 466.6,284.9 468.4,290.9 471,272.9 473,272.9 476,279.9 477.9,283.9 480.5,286.3 482.9,283.9 485.3,280.9 486.5,298.9 488.9,263.9 491.5,251 493.3,259 495.3,274.9 498.5,280.9 501.3,275.9 503.9,280.9 505.9,288.9 508.9,293.9 512.9,296.9 515.9,301.9 518.9,308.8 522.3,321.8 523.8,320.8 528.8,313.8 531.8,297.9 533.8,297.9 536.4,303.5 538.8,291.9 541.8,279.9 543.4,278.9 545.8,281.9 547.8,282.3 550.4,290.9 552.4,299.9 554.8,300.9 557.4,299.9 559.8,297.5 561.4,305.9 564.4,308.2 566.4,307.5 568.4,301.9 570.7,293.5 573.1,292.3 575.3,281.9 577.1,292.9 578.3,303.9 580.1,299.5 582.3,303.5 583.7,305.9 585.7,321.8 587.7,337.8 589.7,349.8 592.1,358.7 594.1,373.7 596.7,379.7 599.1,385.7 601.7,387.7 603.7,377.7 605.7,366.7 608.1,353.7 610.3,344.8 612.3,346.8 613.7,329.8 615.6,302.3 617.6,305.9 620.2,305.9 622,281.8 624.4,272.8 626.4,261.8 628.4,264.2 631,267.8 634.4,261.8 638,258.8 640.4,253.8 642.9,259.8 644.9,267.4 647.9,262.8 649.9,258.2 652.9,266.8 654.9,279.8 657.3,289.3 658.9,279.8 661.9,304.7 664.3,293.7 666.3,285.7 667.9,283.8 669.9,267.8 672.3,268.8 674.5,271.8 677.5,256.8 679.5,262.2 681.9,256.8 683.9,249.8 685.9,229.9 686.9,215.9 688.8,208.9 691.8,215.9 693.2,193.5 694.8,209.9 696.4,227.9 698.2,231.9 700.2,223.9 702.2,223.5 703.8,231.9 705.8,249.8 707.4,262.2 709.8,262.8 711.8,260.8 713.4,243.8 715.2,225.9 717.2,231.5 719.4,228.9 721.2,219.5 723.8,221.9 725.8,221.5 728.8,208.9 730.8,205.9 733.7,190 735.7,199.9 738.7,204.9 740.3,205.5 743.1,227.5 745.1,221.9 747.3,221.9 748.7,232.9 751.7,234.3 754.1,238.8 756.7,244.2 758.7,221.5 761.1,233.9 763.1,253.8 765.3,245.8 767.7,236.9 770.7,240.2 772.7,239.8 775.7,245.4 778,244.8 780.6,245.8 782.6,235.8 785.8,209.6 789.2,207.5 791,218.7 794.4,227.4 796.2,221.4 798.9,220 802.3,227.9 805.4,234.5 807.5,248.9 809.6,255.4 812.7,246.3 815.4,235.8 817.5,230 819.3,233.2 821.9,234.5 823.8,224 826.6,227.4 829.8,226.6 831.9,226.6 833.7,214.8 835.8,191.2 837.6,169 840.8,155.9 842.4,145.4 844.7,141.5 846.8,126.3 849.4,125.2 851.3,138.8 854.1,131.5 856,138.8 858.6,142 861.7,142.8 864.4,145.4 866.5,138.8 868.3,128.9 870.4,145.4 872.2,136.2 874.8,119.2 877.7,109.5 879.6,93 882.2,81.2 884.3,64.2" fill="none" stroke="#000" stroke-width="3.4" stroke-linejoin="round" stroke-linecap="round"/>
<text x="22.3" y="29.5" font-size="23.4" font-weight="bold" fill="#000" text-anchor="start" textLength="67" lengthAdjust="spacingAndGlyphs">$GOLD</text>
<text x="96.3" y="28.2" font-size="16" font-weight="normal" fill="#000" text-anchor="start" stroke="#000" stroke-width="0.2" textLength="251" lengthAdjust="spacingAndGlyphs">Gold - Continuous Contract (EOD)</text>
<text x="355.3" y="28.2" font-size="13.4" font-weight="normal" fill="#000" text-anchor="start" stroke="#000" stroke-width="0.2" textLength="34" lengthAdjust="spacingAndGlyphs">CME</text>
<text x="768" y="28.8" font-size="17.4" font-weight="normal" fill="#3c3c3c" text-anchor="start" stroke="#3c3c3c" stroke-width="0.45" textLength="125" lengthAdjust="spacingAndGlyphs">StockCharts.com</text>
<text x="752.6" y="27.6" font-size="13.4" font-weight="normal" fill="#3c3c3c" text-anchor="start" stroke="#3c3c3c" stroke-width="0.4" textLength="11.6" lengthAdjust="spacingAndGlyphs">©</text>
<text x="21.8" y="48.9" font-size="16.0" font-weight="normal" fill="#000" text-anchor="start" stroke="#000" stroke-width="0.2" textLength="81" lengthAdjust="spacingAndGlyphs">2-Apr-2024</text>
<text x="121.8" y="48.9" font-size="17.0" font-weight="bold" fill="#000" text-anchor="start" textLength="43.2" lengthAdjust="spacingAndGlyphs">Open</text>
<text x="169.6" y="48.9" font-size="16.0" font-weight="normal" fill="#000" text-anchor="start" stroke="#000" stroke-width="0.2" textLength="61" lengthAdjust="spacingAndGlyphs">2272.70</text>
<text x="239.8" y="48.9" font-size="17.0" font-weight="bold" fill="#000" text-anchor="start" textLength="36.8" lengthAdjust="spacingAndGlyphs">High</text>
<text x="282.1" y="48.9" font-size="16.0" font-weight="normal" fill="#000" text-anchor="start" stroke="#000" stroke-width="0.2" textLength="60" lengthAdjust="spacingAndGlyphs">2297.90</text>
<text x="352.2" y="48.9" font-size="17.0" font-weight="bold" fill="#000" text-anchor="start" textLength="35.2" lengthAdjust="spacingAndGlyphs">Low</text>
<text x="393.6" y="48.9" font-size="16.0" font-weight="normal" fill="#000" text-anchor="start" stroke="#000" stroke-width="0.2" textLength="60" lengthAdjust="spacingAndGlyphs">2267.10</text>
<text x="463.4" y="48.9" font-size="17.0" font-weight="bold" fill="#000" text-anchor="start" textLength="48.6" lengthAdjust="spacingAndGlyphs">Close</text>
<text x="517.4" y="48.9" font-size="16.0" font-weight="normal" fill="#000" text-anchor="start" stroke="#000" stroke-width="0.2" textLength="60.6" lengthAdjust="spacingAndGlyphs">2281.80</text>
<text x="588.8" y="48.9" font-size="17.0" font-weight="bold" fill="#000" text-anchor="start" textLength="64.2" lengthAdjust="spacingAndGlyphs">Volume</text>
<text x="659.2" y="48.9" font-size="16.0" font-weight="normal" fill="#000" text-anchor="start" stroke="#000" stroke-width="0.2" textLength="36" lengthAdjust="spacingAndGlyphs">24.7</text>
<text x="695.5" y="48.9" font-size="12.6" font-weight="normal" fill="#000" text-anchor="start" stroke="#000" stroke-width="0.2" textLength="10.6" lengthAdjust="spacingAndGlyphs">M</text>
<text x="715.4" y="48.9" font-size="17.0" font-weight="bold" fill="#000" text-anchor="start" textLength="33.6" lengthAdjust="spacingAndGlyphs">Chg</text>
<text x="754.4" y="48.9" font-size="16.0" font-weight="normal" fill="#000" text-anchor="start" stroke="#000" stroke-width="0.2" textLength="50.4" lengthAdjust="spacingAndGlyphs">+24.70</text>
<text x="809.8" y="48.9" font-size="16.0" font-weight="normal" fill="#000" text-anchor="start" stroke="#000" stroke-width="0.2" textLength="66.8" lengthAdjust="spacingAndGlyphs">(+1.09%)</text>
<polygon points="880.4,46.6 891.6,46.6 886,40.8" fill="#2c6e2c"/>
<line x1="26.7" y1="62.1" x2="40.4" y2="62.1" stroke="#000" stroke-width="3.1"/>
<text transform="translate(46.6,67.8) scale(1.08,1)" font-size="14.2" font-weight="normal" fill="#000" stroke="#000" stroke-width="0.3" textLength="461.67" lengthAdjust="spacing">Gold - Continuous Contract (EOD) (Daily) 2281.80 (2 Apr)</text>
<text x="896.5" y="89.2" font-size="15.7" font-weight="normal" fill="#000" text-anchor="start" stroke="#000" stroke-width="0.25" textLength="37" lengthAdjust="spacingAndGlyphs">2250</text>
<text x="896.5" y="121.8" font-size="15.7" font-weight="normal" fill="#000" text-anchor="start" stroke="#000" stroke-width="0.25" textLength="37" lengthAdjust="spacingAndGlyphs">2200</text>
<text x="896.5" y="155.79999999999998" font-size="15.7" font-weight="normal" fill="#000" text-anchor="start" stroke="#000" stroke-width="0.25" textLength="37" lengthAdjust="spacingAndGlyphs">2150</text>
<text x="896.5" y="190.1" font-size="15.7" font-weight="normal" fill="#000" text-anchor="start" stroke="#000" stroke-width="0.25" textLength="37" lengthAdjust="spacingAndGlyphs">2100</text>
<text x="896.5" y="225.6" font-size="15.7" font-weight="normal" fill="#000" text-anchor="start" stroke="#000" stroke-width="0.25" textLength="37" lengthAdjust="spacingAndGlyphs">2050</text>
<text x="896.5" y="263.0" font-size="15.7" font-weight="normal" fill="#000" text-anchor="start" stroke="#000" stroke-width="0.25" textLength="37" lengthAdjust="spacingAndGlyphs">2000</text>
<text x="896.5" y="300.5" font-size="15.7" font-weight="normal" fill="#000" text-anchor="start" stroke="#000" stroke-width="0.25" textLength="37" lengthAdjust="spacingAndGlyphs">1950</text>
<text x="896.5" y="337.7" font-size="15.7" font-weight="normal" fill="#000" text-anchor="start" stroke="#000" stroke-width="0.25" textLength="37" lengthAdjust="spacingAndGlyphs">1900</text>
<text x="896.5" y="377.59999999999997" font-size="15.7" font-weight="normal" fill="#000" text-anchor="start" stroke="#000" stroke-width="0.25" textLength="37" lengthAdjust="spacingAndGlyphs">1850</text>
<text x="896.5" y="418.4" font-size="15.7" font-weight="normal" fill="#000" text-anchor="start" stroke="#000" stroke-width="0.25" textLength="37" lengthAdjust="spacingAndGlyphs">1800</text>
<text x="896.5" y="460.4" font-size="15.7" font-weight="normal" fill="#000" text-anchor="start" stroke="#000" stroke-width="0.25" textLength="37" lengthAdjust="spacingAndGlyphs">1750</text>
<text x="896.5" y="502.2" font-size="15.7" font-weight="normal" fill="#000" text-anchor="start" stroke="#000" stroke-width="0.25" textLength="37" lengthAdjust="spacingAndGlyphs">1700</text>
<text x="896.5" y="545.5" font-size="15.7" font-weight="normal" fill="#000" text-anchor="start" stroke="#000" stroke-width="0.25" textLength="37" lengthAdjust="spacingAndGlyphs">1650</text>
<polygon points="888.4,62 894.6,53.2 959.2,53.2 959.2,70.9 894.6,70.9" fill="#fff" stroke="#000" stroke-width="1.5"/>
<text x="896.2" y="67.5" font-size="15.6" font-weight="bold" fill="#000" text-anchor="start" textLength="59.4" lengthAdjust="spacingAndGlyphs">2281.80</text>
<text transform="translate(49.07,584.9000000000001) scale(0.98,1)" font-size="14.8" font-weight="normal" fill="#000" stroke="#000" stroke-width="0.2" textLength="29.38" lengthAdjust="spacing">Nov</text>
<text transform="translate(49.07,787.3000000000001) scale(0.98,1)" font-size="14.8" font-weight="normal" fill="#000" stroke="#000" stroke-width="0.2" textLength="29.38" lengthAdjust="spacing">Nov</text>
<text transform="translate(97.49,584.9000000000001) scale(0.98,1)" font-size="14.8" font-weight="normal" fill="#000" stroke="#000" stroke-width="0.2" textLength="29.43" lengthAdjust="spacing">Dec</text>
<text transform="translate(97.49,787.3000000000001) scale(0.98,1)" font-size="14.8" font-weight="normal" fill="#000" stroke="#000" stroke-width="0.2" textLength="29.43" lengthAdjust="spacing">Dec</text>
<text x="140.56" y="584.7" font-size="16.6" font-weight="bold" fill="#000" text-anchor="start" textLength="37.45" lengthAdjust="spacingAndGlyphs">2023</text>
<text x="140.56" y="787.1" font-size="16.6" font-weight="bold" fill="#000" text-anchor="start" textLength="37.45" lengthAdjust="spacingAndGlyphs">2023</text>
<text transform="translate(192.72,584.9000000000001) scale(0.98,1)" font-size="14.8" font-weight="normal" fill="#000" stroke="#000" stroke-width="0.2" textLength="28.18" lengthAdjust="spacing">Feb</text>
<text transform="translate(192.72,787.3000000000001) scale(0.98,1)" font-size="14.8" font-weight="normal" fill="#000" stroke="#000" stroke-width="0.2" textLength="28.18" lengthAdjust="spacing">Feb</text>
<text transform="translate(236.49,584.9000000000001) scale(0.98,1)" font-size="14.8" font-weight="normal" fill="#000" stroke="#000" stroke-width="0.2" textLength="28.67" lengthAdjust="spacing">Mar</text>
<text transform="translate(236.49,787.3000000000001) scale(0.98,1)" font-size="14.8" font-weight="normal" fill="#000" stroke="#000" stroke-width="0.2" textLength="28.67" lengthAdjust="spacing">Mar</text>
<text transform="translate(289.92,584.9000000000001) scale(0.98,1)" font-size="14.8" font-weight="normal" fill="#000" stroke="#000" stroke-width="0.2" textLength="27.66" lengthAdjust="spacing">Apr</text>
<text transform="translate(289.92,787.3000000000001) scale(0.98,1)" font-size="14.8" font-weight="normal" fill="#000" stroke="#000" stroke-width="0.2" textLength="27.66" lengthAdjust="spacing">Apr</text>
<text transform="translate(332.7,584.9000000000001) scale(0.98,1)" font-size="14.8" font-weight="normal" fill="#000" stroke="#000" stroke-width="0.2" textLength="32.91" lengthAdjust="spacing">May</text>
<text transform="translate(332.7,787.3000000000001) scale(0.98,1)" font-size="14.8" font-weight="normal" fill="#000" stroke="#000" stroke-width="0.2" textLength="32.91" lengthAdjust="spacing">May</text>
<text transform="translate(385.81,584.9000000000001) scale(0.98,1)" font-size="14.8" font-weight="normal" fill="#000" stroke="#000" stroke-width="0.2" textLength="27.38" lengthAdjust="spacing">Jun</text>
<text transform="translate(385.81,787.3000000000001) scale(0.98,1)" font-size="14.8" font-weight="normal" fill="#000" stroke="#000" stroke-width="0.2" textLength="27.38" lengthAdjust="spacing">Jun</text>
<text transform="translate(435.94,584.9000000000001) scale(0.98,1)" font-size="14.8" font-weight="normal" fill="#000" stroke="#000" stroke-width="0.2" textLength="22.62" lengthAdjust="spacing">Jul</text>
<text transform="translate(435.94,787.3000000000001) scale(0.98,1)" font-size="14.8" font-weight="normal" fill="#000" stroke="#000" stroke-width="0.2" textLength="22.62" lengthAdjust="spacing">Jul</text>
<text transform="translate(478.93,584.9000000000001) scale(0.98,1)" font-size="14.8" font-weight="normal" fill="#000" stroke="#000" stroke-width="0.2" textLength="31.01" lengthAdjust="spacing">Aug</text>
<text transform="translate(478.93,787.3000000000001) scale(0.98,1)" font-size="14.8" font-weight="normal" fill="#000" stroke="#000" stroke-width="0.2" textLength="31.01" lengthAdjust="spacing">Aug</text>
<text transform="translate(532.78,584.9000000000001) scale(0.98,1)" font-size="14.8" font-weight="normal" fill="#000" stroke="#000" stroke-width="0.2" textLength="29.94" lengthAdjust="spacing">Sep</text>
<text transform="translate(532.78,787.3000000000001) scale(0.98,1)" font-size="14.8" font-weight="normal" fill="#000" stroke="#000" stroke-width="0.2" textLength="29.94" lengthAdjust="spacing">Sep</text>
<text transform="translate(580.98,584.9000000000001) scale(0.98,1)" font-size="14.8" font-weight="normal" fill="#000" stroke="#000" stroke-width="0.2" textLength="28.07" lengthAdjust="spacing">Oct</text>
<text transform="translate(580.98,787.3000000000001) scale(0.98,1)" font-size="14.8" font-weight="normal" fill="#000" stroke="#000" stroke-width="0.2" textLength="28.07" lengthAdjust="spacing">Oct</text>
<text transform="translate(630.46,584.9000000000001) scale(0.98,1)" font-size="14.8" font-weight="normal" fill="#000" stroke="#000" stroke-width="0.2" textLength="29.69" lengthAdjust="spacing">Nov</text>
<text transform="translate(630.46,787.3000000000001) scale(0.98,1)" font-size="14.8" font-weight="normal" fill="#000" stroke="#000" stroke-width="0.2" textLength="29.69" lengthAdjust="spacing">Nov</text>
<text transform="translate(678.73,584.9000000000001) scale(0.98,1)" font-size="14.8" font-weight="normal" fill="#000" stroke="#000" stroke-width="0.2" textLength="30.02" lengthAdjust="spacing">Dec</text>
<text transform="translate(678.73,787.3000000000001) scale(0.98,1)" font-size="14.8" font-weight="normal" fill="#000" stroke="#000" stroke-width="0.2" textLength="30.02" lengthAdjust="spacing">Dec</text>
<text x="718.85" y="584.7" font-size="16.6" font-weight="bold" fill="#000" text-anchor="start" textLength="38.93" lengthAdjust="spacingAndGlyphs">2024</text>
<text x="718.85" y="787.1" font-size="16.6" font-weight="bold" fill="#000" text-anchor="start" textLength="38.93" lengthAdjust="spacingAndGlyphs">2024</text>
<text transform="translate(774.64,584.9000000000001) scale(0.98,1)" font-size="14.8" font-weight="normal" fill="#000" stroke="#000" stroke-width="0.2" textLength="28.72" lengthAdjust="spacing">Feb</text>
<text transform="translate(774.64,787.3000000000001) scale(0.98,1)" font-size="14.8" font-weight="normal" fill="#000" stroke="#000" stroke-width="0.2" textLength="28.72" lengthAdjust="spacing">Feb</text>
<text transform="translate(821.56,584.9000000000001) scale(0.98,1)" font-size="14.8" font-weight="normal" fill="#000" stroke="#000" stroke-width="0.2" textLength="29.83" lengthAdjust="spacing">Mar</text>
<text transform="translate(821.56,787.3000000000001) scale(0.98,1)" font-size="14.8" font-weight="normal" fill="#000" stroke="#000" stroke-width="0.2" textLength="29.83" lengthAdjust="spacing">Mar</text>
<text transform="translate(869.62,584.9000000000001) scale(0.98,1)" font-size="14.8" font-weight="normal" fill="#000" stroke="#000" stroke-width="0.2" textLength="26.51" lengthAdjust="spacing">Apr</text>
<text transform="translate(869.62,787.3000000000001) scale(0.98,1)" font-size="14.8" font-weight="normal" fill="#000" stroke="#000" stroke-width="0.2" textLength="26.51" lengthAdjust="spacing">Apr</text>
<polygon points="27,606.6 27,603 31.5,595 34.5,601.5 37.5,598 40.6,598.5 40.6,606.6" fill="#6f956f"/>
<polyline points="27,604.5 31.5,595 34.8,601.8 37.5,598 40.4,598.4 40.4,606.4" fill="none" stroke="#000" stroke-width="1.5"/>
<text transform="translate(46.2,606.8) scale(1.06,1)" font-size="14.8" font-weight="normal" fill="#000" stroke="#000" stroke-width="0.3" textLength="115.28" lengthAdjust="spacing">RSI(14) 79.11</text>
<text x="897.1" y="622.3" font-size="15.4" font-weight="normal" fill="#000" text-anchor="start" stroke="#000" stroke-width="0.25" textLength="18.0" lengthAdjust="spacingAndGlyphs">90</text>
<text x="897.1" y="653.5" font-size="15.4" font-weight="normal" fill="#000" text-anchor="start" stroke="#000" stroke-width="0.25" textLength="18.0" lengthAdjust="spacingAndGlyphs">70</text>
<text x="897.1" y="684.8" font-size="15.4" font-weight="normal" fill="#000" text-anchor="start" stroke="#000" stroke-width="0.25" textLength="18.0" lengthAdjust="spacingAndGlyphs">50</text>
<text x="897.1" y="717.1" font-size="15.4" font-weight="normal" fill="#000" text-anchor="start" stroke="#000" stroke-width="0.25" textLength="18.0" lengthAdjust="spacingAndGlyphs">30</text>
<text x="897.1" y="748.5" font-size="15.4" font-weight="normal" fill="#000" text-anchor="start" stroke="#000" stroke-width="0.25" textLength="18.0" lengthAdjust="spacingAndGlyphs">10</text>
<polygon points="888.5,634.2 894.6,626.5 940.3,626.5 940.3,641.9 894.6,641.9" fill="#fff" stroke="#000" stroke-width="1.4"/>
<text x="896.0" y="639.5" font-size="15.3" font-weight="normal" fill="#000" text-anchor="start" stroke="#000" stroke-width="0.3" textLength="40.0" lengthAdjust="spacingAndGlyphs">79.11</text>
<line x1="195.7" y1="323.2" x2="234.6" y2="404.6" stroke="#ff0000" stroke-width="5"/>
<polygon points="240.1,416.4 226.9,406.5 240.8,400.3" fill="#ff0000"/>
<ellipse cx="192.2" cy="645.2" rx="25.7" ry="25.8" fill="none" stroke="#ff0000" stroke-width="6.2"/>
<ellipse cx="890" cy="640.8" rx="62.8" ry="36" fill="none" stroke="#ff0000" stroke-width="5.8"/>
</g></svg>
</body></html>
